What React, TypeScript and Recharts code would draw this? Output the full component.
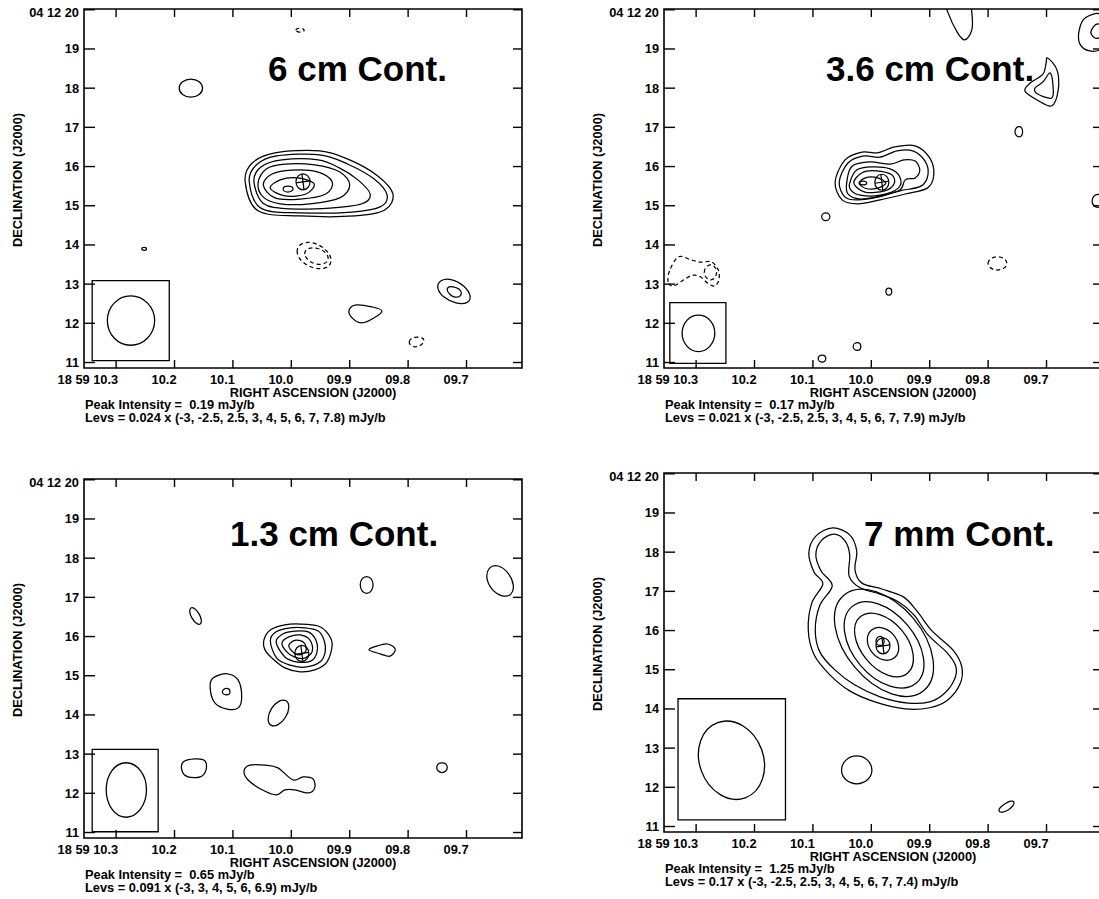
import React from "react";
import { ComposedChart, Line, Scatter, XAxis, YAxis, ReferenceArea } from "recharts";

type Pt = [number, number];
type Contour = { lev: number; p: Pt[] };

// axes: RA seconds (18h59m..) and Dec arcsec (+04 12' ..)
const raTicks = [10.3, 10.2, 10.1, 10.0, 9.9, 9.8, 9.7];
const decTicks = [11, 12, 13, 14, 15, 16, 17, 18, 19, 20];
const raDomain: [number, number] = [9.605, 10.355];
const decDomain: [number, number] = [10.86, 20.02];

// ---- 6 cm ----
const levels6cm = [-3, -2.5, 2.5, 3, 4, 5, 6, 7, 7.8];
const contours6cm: Contour[] = [
  { lev: 2.5, p: [[10.079, 15.61], [10.067, 16.09], [10.028, 16.35], [9.951, 16.40], [9.900, 16.17], [9.852, 15.76], [9.826, 15.30], [9.840, 14.89], [9.891, 14.74], [9.985, 14.74], [10.057, 14.87]] },
  { lev: 3, p: [[10.072, 15.61], [10.060, 16.04], [10.025, 16.27], [9.951, 16.30], [9.903, 16.06], [9.858, 15.68], [9.836, 15.27], [9.848, 14.97], [9.896, 14.84], [9.985, 14.82], [10.052, 14.94]] },
  { lev: 4, p: [[10.064, 15.61], [10.052, 15.99], [10.016, 16.17], [9.954, 16.17], [9.917, 15.96], [9.886, 15.66], [9.865, 15.30], [9.879, 15.05], [9.934, 14.94], [10.002, 14.92], [10.047, 15.05]] },
  { lev: 5, p: [[10.057, 15.58], [10.043, 15.94], [10.011, 16.06], [9.960, 16.04], [9.917, 15.86], [9.900, 15.53], [9.917, 15.20], [9.968, 15.05], [10.019, 15.05], [10.048, 15.22]] },
  { lev: 6, p: [[10.048, 15.53], [10.033, 15.81], [9.999, 15.91], [9.954, 15.86], [9.930, 15.61], [9.941, 15.30], [9.985, 15.17], [10.028, 15.20]] },
  { lev: 7, p: [[10.036, 15.45], [10.019, 15.66], [9.989, 15.71], [9.961, 15.56], [9.975, 15.30], [10.011, 15.25]] },
  { lev: 7.8, p: [[10.014, 15.43], [10.006, 15.50], [9.997, 15.43], [10.006, 15.35]] },
  { lev: 2.5, p: [[10.192, 18.0], [10.172, 18.23], [10.152, 18.0], [10.172, 17.77]] },
  { lev: -2.5, p: [[9.990, 13.82], [9.963, 14.05], [9.932, 13.62], [9.960, 13.41]] },
  { lev: -3, p: [[9.977, 13.77], [9.958, 13.92], [9.937, 13.67], [9.956, 13.51]] },
  { lev: 2.5, p: [[9.749, 12.90], [9.725, 13.11], [9.694, 12.70], [9.718, 12.52]] },
  { lev: 3, p: [[9.733, 12.85], [9.723, 12.93], [9.709, 12.78], [9.720, 12.67]] },
  { lev: 2.5, p: [[9.901, 12.34], [9.889, 12.47], [9.862, 12.42], [9.845, 12.32], [9.858, 12.14], [9.879, 12.01], [9.896, 12.14]] },
  { lev: -2.5, p: [[9.798, 11.53], [9.785, 11.65], [9.773, 11.55], [9.787, 11.40]] },
  { lev: 2.5, p: [[10.256, 13.90], [10.252, 13.94], [10.248, 13.90], [10.252, 13.86]] },
  { lev: -2.5, p: [[9.992, 19.48], [9.985, 19.53], [9.978, 19.48], [9.985, 19.43]] },
];
const beam6cm: Pt[] = [[10.315, 12.07], [10.275, 12.70], [10.234, 12.07], [10.275, 11.44]];
const beamBox6cm = [10.209, 10.341, 11.05, 13.09];
const peak6cm: Pt = [9.980, 15.61];

// ---- 3.6 cm ----
const levels36cm = [-3, -2.5, 2.5, 3, 4, 5, 6, 7, 7.9];
const contours36cm: Contour[] = [
  { lev: 2.5, p: [[10.062, 15.61], [10.045, 16.17], [10.016, 16.37], [9.989, 16.35], [9.960, 16.50], [9.925, 16.53], [9.900, 16.22], [9.893, 15.79], [9.904, 15.45], [9.942, 15.30], [9.985, 15.15], [10.023, 15.05], [10.050, 15.15]] },
  { lev: 3, p: [[10.055, 15.61], [10.040, 16.09], [10.013, 16.27], [9.985, 16.24], [9.956, 16.40], [9.929, 16.40], [9.908, 16.14], [9.903, 15.79], [9.915, 15.50], [9.951, 15.38], [9.989, 15.22], [10.023, 15.15], [10.045, 15.22]] },
  { lev: 4, p: [[10.042, 15.61], [10.033, 16.01], [10.002, 16.12], [9.968, 16.06], [9.944, 16.17], [9.925, 16.14], [9.917, 15.91], [9.925, 15.71], [9.942, 15.66], [9.951, 15.40], [9.985, 15.25], [10.019, 15.17], [10.040, 15.30]] },
  { lev: 5, p: [[10.037, 15.58], [10.025, 15.91], [9.999, 15.99], [9.968, 15.94], [9.951, 15.73], [9.954, 15.45], [9.985, 15.27], [10.019, 15.27], [10.035, 15.40]] },
  { lev: 6, p: [[10.030, 15.58], [10.016, 15.84], [9.992, 15.89], [9.965, 15.79], [9.961, 15.56], [9.977, 15.38], [10.011, 15.35]] },
  { lev: 7, p: [[10.021, 15.58], [10.009, 15.72], [9.989, 15.71], [9.975, 15.58], [9.989, 15.45], [10.009, 15.44]] },
  { lev: 7.9, p: [[10.020, 15.58], [10.014, 15.63], [10.008, 15.58], [10.014, 15.53]] },
  { lev: 2.5, p: [[9.876, 20.38], [9.869, 19.94], [9.853, 19.43], [9.840, 19.23], [9.828, 19.48], [9.828, 19.94], [9.835, 20.38]] },
  { lev: 2.5, p: [[9.634, 19.79], [9.644, 19.48], [9.643, 19.13], [9.626, 18.95], [9.605, 19.03], [9.595, 19.48], [9.608, 19.89]] },
  { lev: 3, p: [[9.620, 19.56], [9.624, 19.41], [9.617, 19.28], [9.607, 19.33], [9.603, 19.54], [9.612, 19.64]] },
  { lev: 2.5, p: [[9.698, 18.77], [9.682, 18.46], [9.680, 17.95], [9.691, 17.55], [9.716, 17.70], [9.737, 17.93], [9.728, 18.13], [9.706, 18.36], [9.701, 18.62]] },
  { lev: 3, p: [[9.694, 18.39], [9.689, 18.08], [9.691, 17.75], [9.715, 17.85], [9.720, 18.00], [9.706, 18.16]] },
  { lev: 2.5, p: [[9.754, 16.89], [9.747, 17.02], [9.741, 16.89], [9.747, 16.76]] },
  { lev: 2.5, p: [[9.622, 15.12], [9.612, 15.29], [9.602, 15.12], [9.612, 14.96]] },
  { lev: 2.5, p: [[10.085, 14.72], [10.078, 14.82], [10.071, 14.72], [10.078, 14.62]] },
  { lev: -2.5, p: [[10.348, 13.06], [10.345, 13.36], [10.330, 13.70], [10.309, 13.62], [10.292, 13.56], [10.274, 13.57], [10.262, 13.36], [10.261, 13.11], [10.268, 12.95], [10.280, 13.02], [10.292, 13.18], [10.306, 13.23], [10.321, 13.11], [10.339, 12.95]] },
  { lev: -3, p: [[10.286, 13.30], [10.275, 13.49], [10.265, 13.30], [10.275, 13.11]] },
  { lev: -2.5, p: [[9.800, 13.53], [9.784, 13.70], [9.768, 13.53], [9.784, 13.36]] },
  { lev: 2.5, p: [[9.975, 12.81], [9.970, 12.90], [9.965, 12.81], [9.970, 12.72]] },
  { lev: 2.5, p: [[10.031, 11.41], [10.024, 11.51], [10.018, 11.41], [10.024, 11.31]] },
  { lev: 2.5, p: [[10.091, 11.10], [10.084, 11.19], [10.078, 11.10], [10.084, 11.01]] },
];
const beam36cm: Pt[] = [[10.324, 11.75], [10.296, 12.21], [10.268, 11.75], [10.296, 11.28]];
const beamBox36cm = [10.249, 10.345, 10.98, 12.53];
const peak36cm: Pt = [9.982, 15.60];

// ---- 1.3 cm ----
const levels13cm = [-3, 3, 4, 5, 6, 6.9];
const contours13cm: Contour[] = [
  { lev: 3, p: [[10.047, 15.91], [10.036, 16.17], [10.011, 16.30], [9.985, 16.32], [9.954, 16.27], [9.937, 16.07], [9.930, 15.79], [9.939, 15.35], [9.960, 15.15], [9.985, 15.10], [10.011, 15.20], [10.033, 15.45], [10.045, 15.66]] },
  { lev: 4, p: [[10.036, 15.89], [10.026, 16.12], [10.002, 16.22], [9.977, 16.22], [9.954, 16.14], [9.944, 15.91], [9.942, 15.61], [9.951, 15.35], [9.977, 15.22], [10.002, 15.27], [10.025, 15.45]] },
  { lev: 5, p: [[10.026, 15.86], [10.014, 16.07], [9.994, 16.14], [9.971, 16.12], [9.958, 15.91], [9.956, 15.61], [9.966, 15.38], [9.989, 15.35], [10.011, 15.48]] },
  { lev: 6, p: [[10.016, 15.84], [10.004, 15.99], [9.985, 16.04], [9.968, 15.91], [9.964, 15.63], [9.977, 15.45], [9.995, 15.48], [10.009, 15.63]] },
  { lev: 6.9, p: [[10.004, 15.79], [9.992, 15.91], [9.978, 15.84], [9.975, 15.63], [9.987, 15.53], [9.999, 15.63]] },
  { lev: 3, p: [[10.172, 16.73], [10.158, 16.58], [10.156, 16.32], [10.170, 16.47]] },
  { lev: 3, p: [[10.134, 14.94], [10.110, 15.05], [10.091, 14.89], [10.085, 14.46], [10.091, 14.18], [10.110, 14.15], [10.131, 14.31], [10.139, 14.69]] },
  { lev: 4, p: [[10.118, 14.59], [10.111, 14.68], [10.105, 14.59], [10.111, 14.51]] },
  { lev: 3, p: [[10.009, 14.36], [10.010, 13.94], [10.035, 13.74], [10.034, 14.16]] },
  { lev: 3, p: [[10.185, 12.80], [10.165, 12.88], [10.148, 12.83], [10.146, 12.60], [10.156, 12.42], [10.177, 12.42], [10.187, 12.57]] },
  { lev: 3, p: [[10.081, 12.57], [10.071, 12.72], [10.045, 12.72], [10.023, 12.65], [9.997, 12.34], [9.980, 12.42], [9.963, 12.37], [9.960, 12.14], [9.971, 12.01], [9.994, 12.09], [10.011, 12.09], [10.026, 11.96], [10.050, 12.09], [10.074, 12.34]] },
  { lev: 3, p: [[9.882, 17.32], [9.871, 17.53], [9.860, 17.32], [9.871, 17.10]] },
  { lev: 3, p: [[9.646, 17.80], [9.620, 17.32], [9.639, 17.04], [9.665, 17.49]] },
  { lev: 3, p: [[9.867, 15.66], [9.853, 15.76], [9.835, 15.81], [9.822, 15.68], [9.831, 15.50], [9.848, 15.56]] },
  { lev: 3, p: [[9.751, 12.66], [9.742, 12.78], [9.733, 12.66], [9.742, 12.53]] },
];
const beam13cm: Pt[] = [[10.317, 12.09], [10.283, 12.78], [10.248, 12.09], [10.283, 11.39]];
const beamBox13cm = [10.228, 10.341, 11.02, 13.12];
const peak13cm: Pt = [9.982, 15.57];

// ---- 7 mm ----
const levels7mm = [-3, -2.5, 2.5, 3, 4, 5, 6, 7, 7.4];
const contours7mm: Contour[] = [
  { lev: 2.5, p: [[10.066, 18.62], [10.095, 18.41], [10.107, 17.98], [10.098, 17.49], [10.083, 17.19], [10.102, 16.70], [10.108, 16.02], [10.098, 15.38], [10.071, 14.87], [10.037, 14.46], [9.994, 14.18], [9.942, 14.00], [9.900, 14.03], [9.869, 14.23], [9.848, 14.64], [9.845, 15.07], [9.860, 15.50], [9.896, 15.99], [9.922, 16.50], [9.945, 16.86], [9.982, 17.06], [10.016, 17.21], [10.028, 17.55], [10.025, 18.03], [10.037, 18.44]] },
  { lev: 3, p: [[10.064, 18.46], [10.086, 18.29], [10.095, 17.93], [10.086, 17.52], [10.067, 17.14], [10.088, 16.65], [10.096, 16.02], [10.088, 15.45], [10.062, 14.99], [10.028, 14.61], [9.985, 14.31], [9.937, 14.15], [9.900, 14.18], [9.876, 14.38], [9.858, 14.74], [9.855, 15.07], [9.870, 15.43], [9.903, 15.89], [9.927, 16.40], [9.953, 16.73], [9.985, 16.93], [10.019, 17.09], [10.038, 17.39], [10.037, 17.93], [10.045, 18.29]] },
  { lev: 4, p: [[10.047, 16.90], [9.928, 16.31], [9.910, 14.47], [10.028, 15.06]] },
  { lev: 5, p: [[10.033, 16.61], [9.938, 16.14], [9.923, 14.66], [10.019, 15.12]] },
  { lev: 6, p: [[10.019, 16.35], [9.948, 16.01], [9.938, 14.91], [10.008, 15.26]] },
  { lev: 7, p: [[10.000, 16.01], [9.962, 15.89], [9.960, 15.31], [9.998, 15.43]] },
  { lev: 7.4, p: [[9.992, 15.73], [9.985, 15.85], [9.978, 15.73], [9.985, 15.62]] },
  { lev: 2.5, p: [[10.051, 12.44], [10.025, 12.80], [9.999, 12.44], [10.025, 12.09]] },
  { lev: 2.5, p: [[9.781, 11.39], [9.771, 11.58], [9.756, 11.63], [9.765, 11.43]] },
];
const beam7mm: Pt[] = [[10.263, 13.65], [10.188, 12.97], [10.216, 11.73], [10.291, 12.42]];
const beamBox7mm = [10.147, 10.331, 11.17, 14.26];
const peak7mm: Pt = [9.980, 15.61];

const panels = [
  { title: "6 cm Cont.", peak: 0.19, unit: 0.024, levels: levels6cm, contours: contours6cm, beam: beam6cm, box: beamBox6cm, marker: peak6cm },
  { title: "3.6 cm Cont.", peak: 0.17, unit: 0.021, levels: levels36cm, contours: contours36cm, beam: beam36cm, box: beamBox36cm, marker: peak36cm },
  { title: "1.3 cm Cont.", peak: 0.65, unit: 0.091, levels: levels13cm, contours: contours13cm, beam: beam13cm, box: beamBox13cm, marker: peak13cm },
  { title: "7 mm Cont.", peak: 1.25, unit: 0.17, levels: levels7mm, contours: contours7mm, beam: beam7mm, box: beamBox7mm, marker: peak7mm },
];

// page layout of the four panels and where each title sits
const spots = [
  { left: 0, top: 0, tx: 268, ty: 81 },
  { left: 580, top: 0, tx: 246, ty: 81 },
  { left: 0, top: 470, tx: 230, ty: 76 },
  { left: 580, top: 464, tx: 284, ty: 82 },
];

const W = 560, H = 440;
const PL = 84, PR = 522, PT = 9, PB = 368;
const FONT = "'Liberation Sans', Arial, Helvetica, sans-serif";
const tickStyle = { fontFamily: FONT, fontWeight: 700, fontSize: 12.8 } as const;
const labStyle = { fontFamily: FONT, fontWeight: 700, fontSize: 12.8 } as const;

// closed cardinal spline through the contour vertices
function smoothClosed(ctx: any) {
  let pts: number[][] = [];
  return {
    areaStart() {},
    areaEnd() {},
    lineStart() { pts = []; },
    point(x: number, y: number) { pts.push([+x, +y]); },
    lineEnd() {
      const n = pts.length;
      if (n < 3) return;
      const k = n <= 4 ? 0.276 : 1 / 6;
      ctx.moveTo(pts[0][0], pts[0][1]);
      for (let i = 0; i < n; i++) {
        const p0 = pts[(i + n - 1) % n], p1 = pts[i], p2 = pts[(i + 1) % n], p3 = pts[(i + 2) % n];
        ctx.bezierCurveTo(
          p1[0] + (p2[0] - p0[0]) * k, p1[1] + (p2[1] - p0[1]) * k,
          p2[0] - (p3[0] - p1[0]) * k, p2[1] - (p3[1] - p1[1]) * k,
          p2[0], p2[1]
        );
      }
      ctx.closePath();
    },
  };
}

function RaTick(props: any) {
  const { x, payload } = props;
  const v = payload.value as number;
  const label = v === 10.3 ? "18 59 10.3" : (v < 10 ? "0" : "") + v.toFixed(1);
  return (
    <g>
      <line x1={x} x2={x} y1={PB} y2={PB - 8} stroke="#000" strokeWidth={1.4} />
      <line x1={x} x2={x} y1={PT} y2={PT + 8} stroke="#000" strokeWidth={1.4} />
      <text x={x + 2} y={PB + 15.5} textAnchor="end" style={tickStyle} fill="#000">{label}</text>
    </g>
  );
}

function DecTick(props: any) {
  const { y, payload } = props;
  const v = payload.value as number;
  const top = v === 20;
  return (
    <g>
      <line x1={PL} x2={PL + 11} y1={y} y2={y} stroke="#000" strokeWidth={1.4} />
      <line x1={PR} x2={PR - 9} y1={y} y2={y} stroke="#000" strokeWidth={1.4} />
      <text x={PL - 5} y={y + (top ? 7.5 : 4.5)} textAnchor="end" style={tickStyle} fill="#000">
        {top ? "04 12 20" : String(v)}
      </text>
    </g>
  );
}

function Marker(props: any) {
  const { cx, cy } = props;
  return (
    <g fill="none" stroke="#000" strokeWidth={1.2}>
      <ellipse cx={cx} cy={cy} rx={7} ry={8} />
      <line x1={cx - 7} x2={cx + 7} y1={cy + 1} y2={cy - 1} />
      <line x1={cx - 1} x2={cx + 1} y1={cy - 8} y2={cy + 8} />
    </g>
  );
}

const toRows = (p: Pt[]) => p.map(([x, y]) => ({ x, y }));

function Panel({ cfg, spot }: { cfg: (typeof panels)[number]; spot: (typeof spots)[number] }) {
  const [bx1, bx2, by1, by2] = cfg.box;
  return (
    <div style={{ position: "absolute", left: spot.left, top: spot.top, width: W, height: H }}>
      <ComposedChart width={W} height={H} margin={{ top: 9, right: 38, bottom: 42, left: 24 }}>
        <XAxis dataKey="x" type="number" domain={raDomain} reversed allowDataOverflow ticks={raTicks}
          interval={0} tick={<RaTick />} tickLine={false} axisLine={false} tickSize={0} tickMargin={0} height={30} />
        <YAxis dataKey="y" type="number" domain={decDomain} allowDataOverflow ticks={decTicks}
          interval={0} tick={<DecTick />} tickLine={false} axisLine={false} tickSize={0} tickMargin={0} width={60} />
        <ReferenceArea x1={raDomain[0]} x2={raDomain[1]} y1={decDomain[0]} y2={decDomain[1]}
          fill="none" stroke="#000" strokeWidth={1.6} ifOverflow="visible" />
        <ReferenceArea x1={bx1} x2={bx2} y1={by1} y2={by2} fill="none" stroke="#000" strokeWidth={1.3} ifOverflow="visible" />
        {cfg.contours.map((c, i) => (
          <Line key={i} data={toRows(c.p)} dataKey="y" type={smoothClosed as any} stroke="#000" strokeWidth={1.25}
            strokeDasharray={c.lev < 0 ? "4 3" : undefined} dot={false} activeDot={false}
            isAnimationActive={false} legendType="none" />
        ))}
        <Line data={toRows(cfg.beam)} dataKey="y" type={smoothClosed as any} stroke="#000" strokeWidth={1.3}
          dot={false} activeDot={false} isAnimationActive={false} legendType="none" />
        <Scatter data={toRows([cfg.marker])} dataKey="y" shape={<Marker />} isAnimationActive={false} legendType="none" />
      </ComposedChart>
      <svg width={W} height={H} style={{ position: "absolute", left: 0, top: 0, pointerEvents: "none" }}>
        <text x={spot.tx} y={spot.ty} style={{ fontFamily: FONT, fontWeight: 700, fontSize: 35 }} fill="#000">{cfg.title}</text>
        <text transform="translate(21.5,180) rotate(-90)" textAnchor="middle" style={labStyle} fill="#000">DECLINATION (J2000)</text>
        <text x={313} y={PB + 28.5} textAnchor="middle" style={labStyle} fill="#000">RIGHT ASCENSION (J2000)</text>
        <text x={PL + 1} y={PB + 41} style={{ ...labStyle, whiteSpace: "pre" }} fill="#000">{`Peak Intensity =  ${cfg.peak} mJy/b`}</text>
        <text x={PL + 1} y={PB + 54} style={{ ...labStyle, whiteSpace: "pre" }} fill="#000">{`Levs = ${cfg.unit} x (${cfg.levels.join(", ")}) mJy/b`}</text>
      </svg>
    </div>
  );
}

export default function App() {
  return (
    <div style={{ position: "absolute", left: 0, top: 0, width: 1099, height: 899, overflow: "hidden", background: "#fff" }}>
      {panels.map((cfg, i) => (
        <Panel key={i} cfg={cfg} spot={spots[i]} />
      ))}
    </div>
  );
}
